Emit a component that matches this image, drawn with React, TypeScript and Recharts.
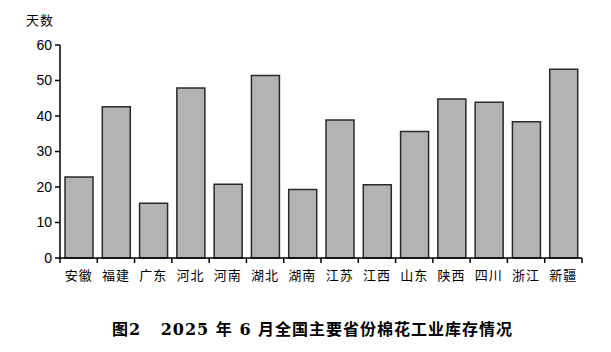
import { BarChart, Bar, XAxis, YAxis } from 'recharts';

const provinces = ['安徽', '福建', '广东', '河北', '河南', '湖北', '湖南', '江苏', '江西', '山东', '陕西', '四川', '浙江', '新疆'];
const inventoryDays = [22.8, 42.6, 15.4, 47.9, 20.8, 51.4, 19.3, 38.9, 20.6, 35.6, 44.8, 43.9, 38.4, 53.2];
const yTicks = [0, 10, 20, 30, 40, 50, 60];

const chartData = provinces.map((name, i) => ({ name, days: inventoryDays[i] }));

const CHART_W = 611;
const PLOT_LEFT = 60;
const PLOT_RIGHT = 29;
const band = (CHART_W - PLOT_LEFT - PLOT_RIGHT) / provinces.length;

// category axis with tick marks between the bars, like the original
function XTick(props: any) {
  const { x, y, payload, index } = props;
  const axisY = y - 13;
  return (
    <g>
      <line x1={x - band / 2} x2={x - band / 2} y1={axisY} y2={axisY + 5} stroke="#000" strokeWidth={1.5} />
      {index === provinces.length - 1 && (
        <line x1={x + band / 2} x2={x + band / 2} y1={axisY} y2={axisY + 5} stroke="#000" strokeWidth={1.5} />
      )}
      <text
        x={x}
        y={y}
        dy="0.71em"
        textAnchor="middle"
        fontSize={13}
        letterSpacing={1}
        fill="#000"
        fontFamily="'Noto Sans CJK SC', sans-serif"
      >
        {payload.value}
      </text>
    </g>
  );
}

export default function App() {
  return (
    <div style={{ position: 'absolute', left: 0, top: 0, width: CHART_W, height: 352, background: '#fff' }}>
      <div style={{ position: 'absolute', left: 26, top: 10, fontSize: 13, letterSpacing: 1, fontFamily: "'Noto Sans CJK SC', sans-serif", color: '#000' }}>
        天数
      </div>
      <BarChart
        width={CHART_W}
        height={352}
        data={chartData}
        margin={{ top: 45, right: PLOT_RIGHT, left: 0, bottom: 64 }}
        barSize={28}
      >
        <XAxis
          dataKey="name"
          height={30}
          interval={0}
          tickLine={false}
          tickSize={5}
          tickMargin={8}
          axisLine={{ stroke: '#000', strokeWidth: 1.5 }}
          tick={<XTick />}
        />
        <YAxis
          width={PLOT_LEFT}
          domain={[0, 60]}
          ticks={yTicks}
          tickSize={5}
          tickMargin={3}
          axisLine={{ stroke: '#000', strokeWidth: 1.5 }}
          tickLine={{ stroke: '#000', strokeWidth: 1.5 }}
          tick={{ fill: '#000', fontSize: 14, fontFamily: "'Liberation Sans', Arial, sans-serif" }}
        />
        <Bar dataKey="days" fill="#b3b3b3" stroke="#2a2a2a" strokeWidth={1.5} isAnimationActive={false} />
      </BarChart>
      <div
        style={{
          position: 'absolute',
          left: 0,
          width: CHART_W,
          top: 316,
          textAlign: 'center',
          paddingLeft: 14,
          boxSizing: 'border-box',
          fontSize: 16,
          fontWeight: 'bold',
          letterSpacing: 1,
          whiteSpace: 'pre',
          fontFamily: "'DejaVu Serif', 'Noto Sans CJK SC', serif",
          color: '#000',
        }}
      >
        {'图2   2025 年 6 月全国主要省份棉花工业库存情况'}
      </div>
    </div>
  );
}
